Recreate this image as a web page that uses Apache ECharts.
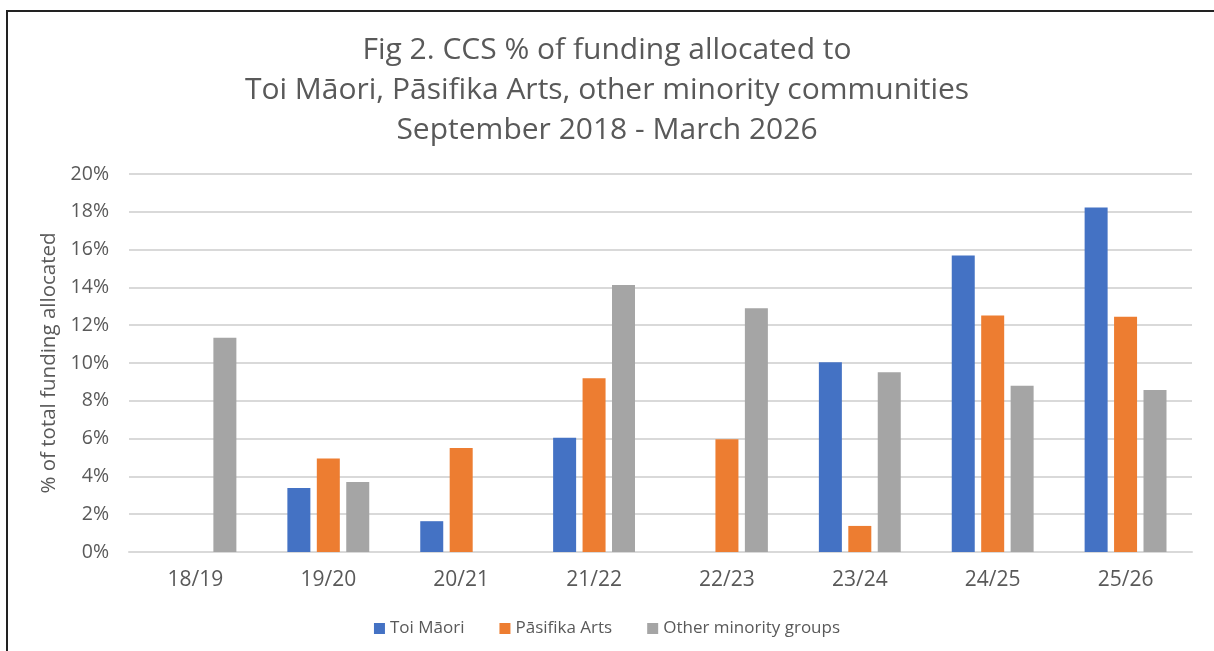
<!DOCTYPE html>
<html>
<head>
<meta charset="utf-8">
<script src="https://cdn.jsdelivr.net/npm/echarts@6/dist/echarts.min.js"></script>
<style>
html,body{margin:0;padding:0;background:#fff;}
#chart{width:1214px;height:651px;}
</style>
</head>
<body>
<div id="chart"></div>
<script>
// values, in percent
var years = ['18/19','19/20','20/21','21/22','22/23','23/24','24/25','25/26'];
var toiMaori = [0, 3.39, 1.63, 6.04, 0, 10.04, 15.69, 18.23];
var pasifika = [0, 4.95, 5.5, 9.19, 5.96, 1.38, 12.51, 12.45];
var otherGroups = [11.34, 3.71, 0, 14.13, 12.9, 9.51, 8.8, 8.57];
var seriesNames = ['Toi Māori', 'Pāsifika Arts', 'Other minority groups'];

var font = '"Open Sans", Lato, sans-serif';
var txt = '#595959';

var chart = echarts.init(document.getElementById('chart'));

var option = {
	animation: false,
	color: ['#4472c4', '#ed7d31', '#a5a5a5'],
	title: {
		text: 'Fig 2. CCS % of funding allocated to\nToi Māori, Pāsifika Arts, other minority communities\nSeptember 2018 - March 2026',
		left: 'center',
		top: 25,
		textStyle: {
			color: txt,
			fontFamily: font,
			fontWeight: 'normal',
			fontSize: 30,
			lineHeight: 40
		}
	},
	legend: {
		data: seriesNames,
		bottom: 9,
		left: 'center',
		itemWidth: 11,
		itemHeight: 11,
		itemGap: 35,
		icon: 'rect',
		textStyle: {color: txt, fontFamily: font, fontSize: 17}
	},
	grid: {
		left: 129,
		right: 22,
		top: 174,
		bottom: 99,
		containLabel: false
	},
	xAxis: {
		type: 'category',
		data: years,
		axisLine: {lineStyle: {color: '#d9d9d9', width: 2}},
		axisTick: {show: false},
		axisLabel: {color: txt, fontFamily: font, fontSize: 21, margin: 18}
	},
	yAxis: {
		type: 'value',
		min: 0,
		max: 20,
		interval: 2,
		name: '% of total funding allocated',
		nameLocation: 'middle',
		nameGap: 64,
		nameTextStyle: {color: txt, fontFamily: font, fontSize: 20.5},
		axisLine: {show: false},
		axisTick: {show: false},
		axisLabel: {color: txt, fontFamily: font, fontSize: 19.5, margin: 20, formatter: '{value}%'},
		splitLine: {lineStyle: {color: '#d9d9d9', width: 2}}
	},
	series: [{
		name: seriesNames[0],
		type: 'bar',
		data: toiMaori,
		barWidth: 23,
		barGap: '28%'
	}, {
		name: seriesNames[1],
		type: 'bar',
		data: pasifika,
		barWidth: 23,
		barGap: '28%'
	}, {
		name: seriesNames[2],
		type: 'bar',
		data: otherGroups,
		barWidth: 23,
		barGap: '28%'
	}],
	graphic: [{
		type: 'rect',
		shape: {x: 7, y: 11, width: 1260, height: 700},
		style: {fill: 'none', stroke: '#222', lineWidth: 2},
		silent: true
	}]
};

chart.setOption(option);
</script>
</body>
</html>
